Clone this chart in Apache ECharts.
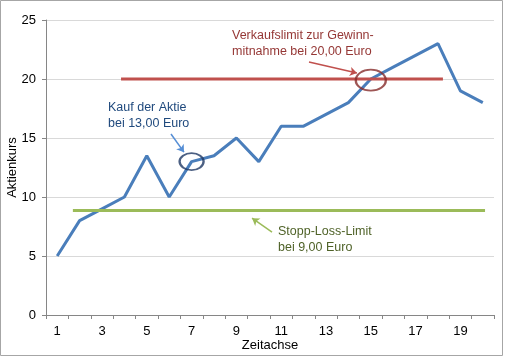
<!DOCTYPE html>
<html><head><meta charset="utf-8">
<script src="https://cdn.jsdelivr.net/npm/echarts@6/dist/echarts.min.js"></script>
<style>html,body{margin:0;padding:0;background:#fff}#c{width:506px;height:357px}</style>
</head><body><div id="c"></div>
<script>
var categories = ['1','2','3','4','5','6','7','8','9','10','11','12','13','14','15','16','17','18','19','20'];
var kurs = [5, 8, 9, 10, 13.5, 10, 13, 13.5, 15, 13, 16, 16, 17, 18, 20, 21, 22, 23, 19, 18];
var verkaufLine = [[3.85, 20], [18.22, 20]];
var stoppLine = [[1.7, 8.85], [20.1, 8.85]];
var kaufMark = [[6, 13]];
var verkaufMark = [[14, 19.9]];
var arrowKauf = [[6.08, 15.34], [6.66, 13.8]];
var arrowVerkauf = [[12.24, 21.44], [14.38, 20.5]];
var arrowStopp = [[10.59, 7.03], [9.7, 8.2]];

var font = 'Liberation Sans, Arial, sans-serif';
var chart = echarts.init(document.getElementById('c'));
chart.setOption({
  animation: false,
  grid: {left: 46, right: 12, top: 20, bottom: 42, outerBoundsMode: 'none', containLabel: false},
  xAxis: [{
    type: 'category', data: categories, boundaryGap: true,
    name: 'Zeitachse', nameLocation: 'middle', nameGap: 24, nameMoveOverlap: false,
    nameTextStyle: {color: '#000', fontSize: 13, fontFamily: font},
    axisLine: {lineStyle: {color: '#868686', width: 1}},
    axisTick: {show: true, interval: 0, length: 4, lineStyle: {color: '#868686'}},
    axisLabel: {interval: 1, color: '#000', fontSize: 13, fontFamily: font, margin: 10},
    splitLine: {show: false}
  }, {
    type: 'value', min: 0.5, max: 20.5, show: false
  }],
  yAxis: {
    type: 'value', min: 0, max: 25, interval: 5,
    name: 'Aktienkurs', nameLocation: 'middle', nameGap: 27, nameRotate: 90, nameMoveOverlap: false,
    nameTextStyle: {color: '#000', fontSize: 13, fontFamily: font},
    axisLine: {show: true, lineStyle: {color: '#868686', width: 1}},
    axisTick: {show: true, length: 4, lineStyle: {color: '#868686'}},
    axisLabel: {color: '#000', fontSize: 13, fontFamily: font, margin: 10},
    splitLine: {lineStyle: {color: '#d9d9d9', width: 1}}
  },
  series: [{
    type: 'line', data: kurs, symbol: 'none', z: 2,
    lineStyle: {color: '#4a7ebb', width: 3}
  }, {
    type: 'line', xAxisIndex: 1, data: verkaufLine, symbol: 'none', z: 3,
    lineStyle: {color: '#c0504d', width: 3}
  }, {
    type: 'line', xAxisIndex: 1, data: stoppLine, symbol: 'none', z: 3,
    lineStyle: {color: '#9bbb59', width: 3}
  }, {
    type: 'scatter', data: kaufMark, symbol: 'circle', symbolSize: [24, 17], z: 4,
    itemStyle: {color: 'rgba(0,0,0,0)', borderColor: '#1f3864', borderWidth: 2}
  }, {
    type: 'scatter', data: verkaufMark, symbol: 'circle', symbolSize: [30, 21], z: 4,
    itemStyle: {color: 'rgba(0,0,0,0)', borderColor: '#862c2a', borderWidth: 2}
  }, {
    type: 'line', xAxisIndex: 1, data: [], symbol: 'none', z: 5,
    markLine: {
      silent: true, animation: false, symbol: ['none', 'arrow'], symbolSize: 7,
      label: {show: false},
      data: [
        [{coord: arrowKauf[0], lineStyle: {color: '#558ed5', width: 1.5, type: 'solid'}}, {coord: arrowKauf[1]}],
        [{coord: arrowVerkauf[0], lineStyle: {color: '#c0504d', width: 1.5, type: 'solid'}}, {coord: arrowVerkauf[1]}],
        [{coord: arrowStopp[0], lineStyle: {color: '#9bbb59', width: 1.5, type: 'solid'}}, {coord: arrowStopp[1]}]
      ]
    }
  }],
  graphic: [
    {type: 'rect', shape: {x: 0.5, y: 0.5, width: 502, height: 355}, style: {fill: 'none', stroke: '#a6a6a6', lineWidth: 1}, z: 0, silent: true},
    {type: 'text', left: 108, top: 100, style: {text: 'Kauf der Aktie\nbei 13,00 Euro', fill: '#1f497d', font: '12.5px ' + font, lineHeight: 16}},
    {type: 'text', left: 232, top: 28, style: {text: 'Verkaufslimit zur Gewinn-\nmitnahme bei 20,00 Euro', fill: '#953735', font: '12.5px ' + font, lineHeight: 16}},
    {type: 'text', left: 278, top: 224, style: {text: 'Stopp-Loss-Limit\nbei 9,00 Euro', fill: '#4f6228', font: '12.5px ' + font, lineHeight: 16}}
  ]
});
</script></body></html>
